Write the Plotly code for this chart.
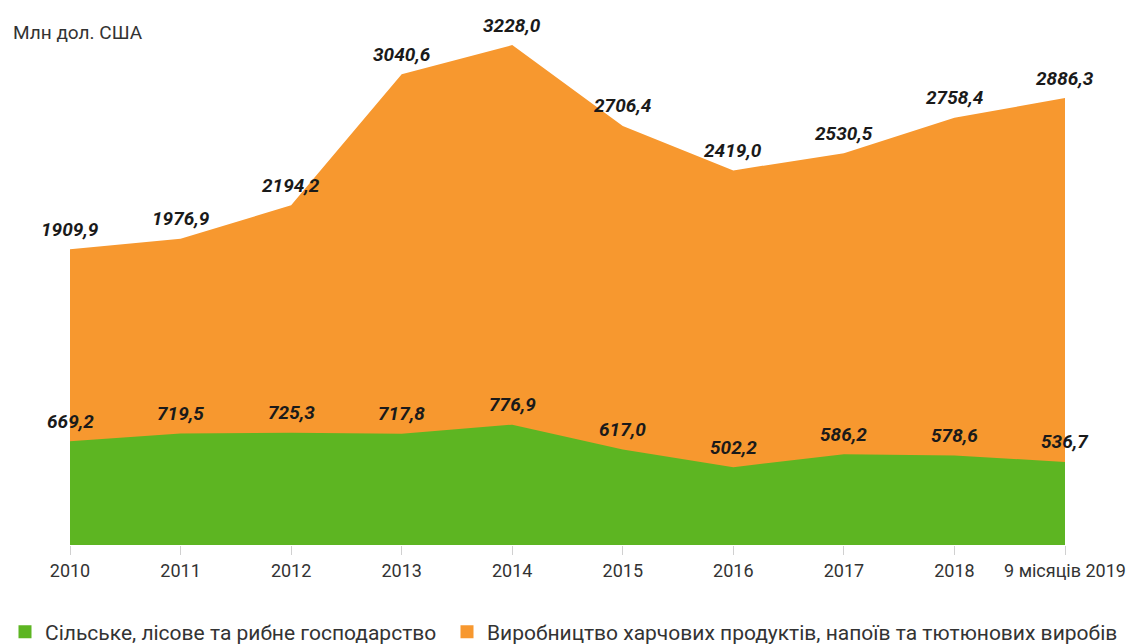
import plotly.graph_objects as go

categories = ["2010", "2011", "2012", "2013", "2014", "2015", "2016", "2017", "2018", "9 місяців 2019"]
food_total = [1909.9, 1976.9, 2194.2, 3040.6, 3228.0, 2706.4, 2419.0, 2530.5, 2758.4, 2886.3]
agri = [669.2, 719.5, 725.3, 717.8, 776.9, 617.0, 502.2, 586.2, 578.6, 536.7]

name_agri = "Сільське, лісове та рибне господарство"
name_food = "Виробництво харчових продуктів, напоїв та тютюнових виробів"

ORANGE = "#F7982F"
GREEN = "#5DB522"
FONT = "Liberation Sans Narrow, Roboto, sans-serif"

def fmt(v):
    return f"{v:.1f}".replace(".", ",")

fig = go.Figure()
fig.add_trace(go.Scatter(x=categories, y=food_total, mode="lines", fill="tozeroy",
                         line=dict(color=ORANGE, width=0), fillcolor=ORANGE,
                         showlegend=False, hoverinfo="skip"))
fig.add_trace(go.Scatter(x=categories, y=agri, mode="lines", fill="tozeroy",
                         line=dict(color=GREEN, width=0), fillcolor=GREEN,
                         showlegend=False, hoverinfo="skip"))
# legend proxies (two separate legends so they sit on one line)
fig.add_trace(go.Scatter(x=[None], y=[None], mode="markers", name=name_agri, legend="legend",
                         marker=dict(symbol="square", size=13, color=GREEN)))
fig.add_trace(go.Scatter(x=[None], y=[None], mode="markers", name=name_food, legend="legend2",
                         marker=dict(symbol="square", size=13, color=ORANGE)))

anns = []
for i, v in enumerate(food_total):
    anns.append(dict(x=i, y=v, xref="x", yref="y", text=f"<b><i>{fmt(v)}</i></b>",
                     showarrow=False, yshift=20,
                     font=dict(family=FONT, size=19, color="#1a1a1a")))
for i, v in enumerate(agri):
    anns.append(dict(x=i, y=v, xref="x", yref="y", text=f"<b><i>{fmt(v)}</i></b>",
                     showarrow=False, yshift=20,
                     font=dict(family=FONT, size=19, color="#1a1a1a")))
anns.append(dict(xref="paper", yref="paper", x=-0.059, y=1.0, xanchor="left", yanchor="middle",
                 yshift=-29, text="Млн дол. США", showarrow=False,
                 font=dict(family=FONT, size=19, color="#333333")))

legend_common = dict(orientation="h", xref="container", yref="container",
                     xanchor="left", y=0.0186, yanchor="middle",
                     font=dict(family=FONT, size=21, color="#333333"),
                     itemwidth=30, bgcolor="rgba(0,0,0,0)")

fig.update_layout(
    width=1131, height=644,
    margin=dict(l=70, r=66, t=3, b=99),
    paper_bgcolor="white", plot_bgcolor="white",
    font=dict(family=FONT, size=18, color="#333333"),
    xaxis=dict(type="category", range=[0, 9], showgrid=False, zeroline=False,
               showline=False, ticks="outside", ticklen=9, tickcolor="#d0d0d0",
               tickfont=dict(family=FONT, size=18, color="#333333")),
    yaxis=dict(range=[0, 3500], visible=False),
    legend=dict(x=5 / 1131, **legend_common),
    legend2=dict(x=447 / 1131, **legend_common),
    annotations=anns,
    showlegend=True,
)

fig.write_html("out.html")
